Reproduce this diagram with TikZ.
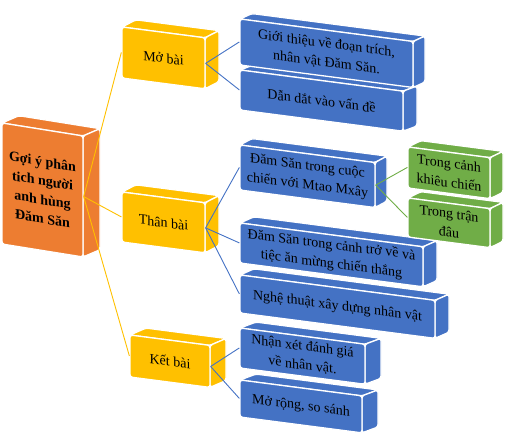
\documentclass[tikz,border=0pt]{standalone}
\usepackage{fontspec}
\setmainfont{Liberation Serif}
\definecolor{cyel}{HTML}{FFC000}
\definecolor{corange}{HTML}{ED7D31}
\definecolor{cblue}{HTML}{4472C4}
\definecolor{cgreen}{HTML}{70AD47}
\tikzset{
  face/.style={draw=white, line width=1.3pt, rounded corners=2.5pt},
  front/.style={face, transform shape, inner sep=0pt, align=center, rectangle,
    font=\fontsize{14}{19}\selectfont},
  link/.style={line width=0.9pt}
}
\def\sl{-0.13}
% #1 name, #2 x, #3 y, #4 w, #5 h, #6 depth x, #7 depth up, #8 colour, #9 text
\newcommand{\cubebox}[9]{%
\begin{scope}[shift={(#2,#3)}, yslant=\sl]
\fill[#8, face] (0,0) -- (#6,-#7) -- (#4+#6,-#7) -- (#4,0) -- cycle;
\fill[#8, face] (#4,0) -- (#4+#6,-#7) -- (#4+#6,#5-#7) -- (#4,#5) -- cycle;
\node[front, fill=#8, minimum width=#4pt, minimum height=#5pt] (#1) at (#4/2,#5/2) {#9};
\end{scope}}
\begin{document}
\begin{tikzpicture}[x=1pt,y=-1pt]
\useasboundingbox (0,0) rectangle (520,444);
% blue column, bottom to top
\cubebox{b7}{240}{380}{122}{37}{16}{8}{cblue}{Mở rộng, so sánh}
\cubebox{b6}{240}{328}{125}{40}{16}{8}{cblue}{Nhận xét đánh giá\\về nhân vật.}
\cubebox{b5}{240}{275}{195}{38}{14}{8}{cblue}{Nghệ thuật xây dựng nhân vật}
\cubebox{b4}{240}{223}{183}{40}{14}{8}{cblue}{Đăm Săn trong cảnh trở về và\\tiệc ăn mừng chiến thắng}
\cubebox{g2}{408}{198}{82}{39}{13}{8}{cgreen}{Trong trận\\đâu}
\cubebox{g1}{408}{147}{82}{41}{13}{8}{cgreen}{Trong cảnh\\khiêu chiến}
\cubebox{b3}{240}{145}{135}{45}{12}{8}{cblue}{Đăm Săn trong cuộc\\chiến với Mtao Mxây}
\cubebox{b2}{240}{70}{163}{40}{14}{7}{cblue}{Dẫn dắt vào vấn đề}
\cubebox{b1}{240}{19}{173}{46}{12}{7}{cblue}{Giới thiệu về đoạn trích,\\nhân vật Đăm Săn.}
% yellow column
\cubebox{ket}{130}{335}{80}{42}{16}{9}{cyel}{Kết bài}
\cubebox{than}{122}{192}{83}{50}{14}{9}{cyel}{Thân bài}
\cubebox{mo}{122}{27}{83}{51}{14}{9}{cyel}{Mở bài}
% root
\def\sl{-0.16}
\cubebox{root}{2}{123}{81}{121}{17}{10}{corange}{\bfseries Gợi ý phân\\\bfseries tich người\\\bfseries anh hùng\\\bfseries Đăm Săn}
% connectors
\draw[link, cyel] (root.east) -- (mo.west);
\draw[link, cyel] (root.east) -- (than.west);
\draw[link, cyel] (root.east) -- (ket.west);
\draw[link, cblue] (mo.east) -- (b1.west);
\draw[link, cblue] (mo.east) -- (b2.west);
\draw[link, cblue] (than.east) -- (b3.west);
\draw[link, cblue] (than.east) -- (b4.west);
\draw[link, cblue] (than.east) -- (b5.west);
\draw[link, cblue] (ket.east) -- (b6.west);
\draw[link, cblue] (ket.east) -- (b7.west);
\draw[link, cgreen] (b3.east) -- (g1.west);
\draw[link, cgreen] (b3.east) -- (g2.west);
\end{tikzpicture}
\end{document}
